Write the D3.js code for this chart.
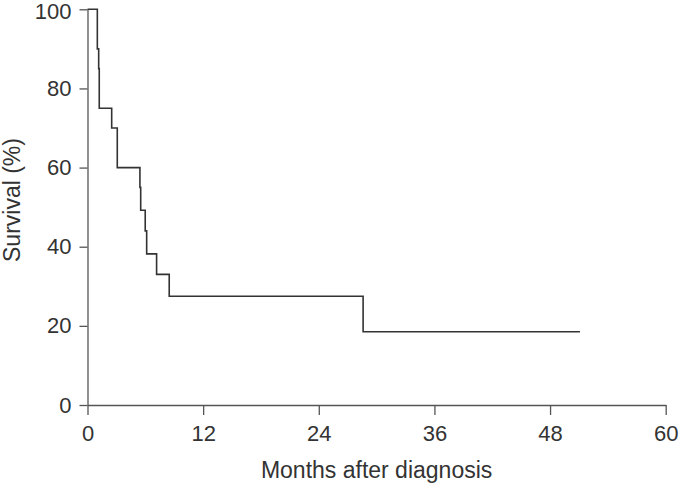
<!DOCTYPE html>
<html>
<head>
<meta charset="utf-8">
<script src="https://cdn.jsdelivr.net/npm/d3@7"></script>
<style>
  body { margin: 0; background: #fff; }
  svg { display: block; font-family: "Liberation Sans", Arial, sans-serif; }
  .axis path, .axis line { stroke: #555; stroke-width: 1.3; }
  .axis text { fill: #333; font-size: 22px; }
  .km { fill: none; stroke: #333; stroke-width: 1.6; }
  .label { fill: #333; font-size: 23px; }
</style>
</head>
<body>
<svg id="chart"></svg>
<script>
const width = 686
const height = 486
const margin = { top: 9.3, right: 20.3, bottom: 81, left: 87.5 }

// Kaplan-Meier steps: time in months, survival in %
const months =   [0,   1.02, 1.16, 1.22, 2.51, 3.09, 5.44, 5.52, 5.99, 6.14, 7.17, 8.48, 28.6, 51.1]
const survival = [100, 90,   85,   75,   70,   60,   55,   49.2, 44,   38.2, 33,   27.5, 18.5, 18.5]

const xTicks = [0, 12, 24, 36, 48, 60]
const yTicks = [0, 20, 40, 60, 80, 100]

const chart = d3.select('#chart')
    .attr('width', width)
    .attr('height', height)

const xScale = d3.scaleLinear().domain([0, 60]).range([margin.left, width - margin.right])
const yScale = d3.scaleLinear().domain([0, 100]).range([height - margin.bottom, margin.top])

const data = months.map((m, i) => ({ x: m, y: survival[i] }))

const line = d3.line()
    .x(d => xScale(d.x))
    .y(d => yScale(d.y))
    .curve(d3.curveStepAfter)

// x axis
chart.append('g').attr('class', 'axis')
    .attr('transform', `translate(0, ${yScale(0)})`)
    .call(d3.axisBottom(xScale).tickValues(xTicks).tickSize(10).tickSizeOuter(0).tickPadding(10))

// y axis
const yAxis = chart.append('g').attr('class', 'axis')
    .attr('transform', `translate(${xScale(0)}, 0)`)
    .call(d3.axisLeft(yScale).tickValues(yTicks).tickSize(8).tickSizeOuter(0).tickPadding(8))
// keep the top label inside the picture
yAxis.selectAll('.tick text').filter(d => d === 100).attr('dy', '0.42em')

chart.append('path')
    .datum(data)
    .attr('class', 'km')
    .attr('d', line)

chart.append('text').attr('class', 'label')
    .attr('x', (xScale(0) + xScale(60)) / 2)
    .attr('y', 478)
    .attr('text-anchor', 'middle')
    .text('Months after diagnosis')

chart.append('text').attr('class', 'label')
    .attr('transform', 'translate(20, 200) rotate(-90)')
    .attr('text-anchor', 'middle')
    .text('Survival (%)')
</script>
</body>
</html>
